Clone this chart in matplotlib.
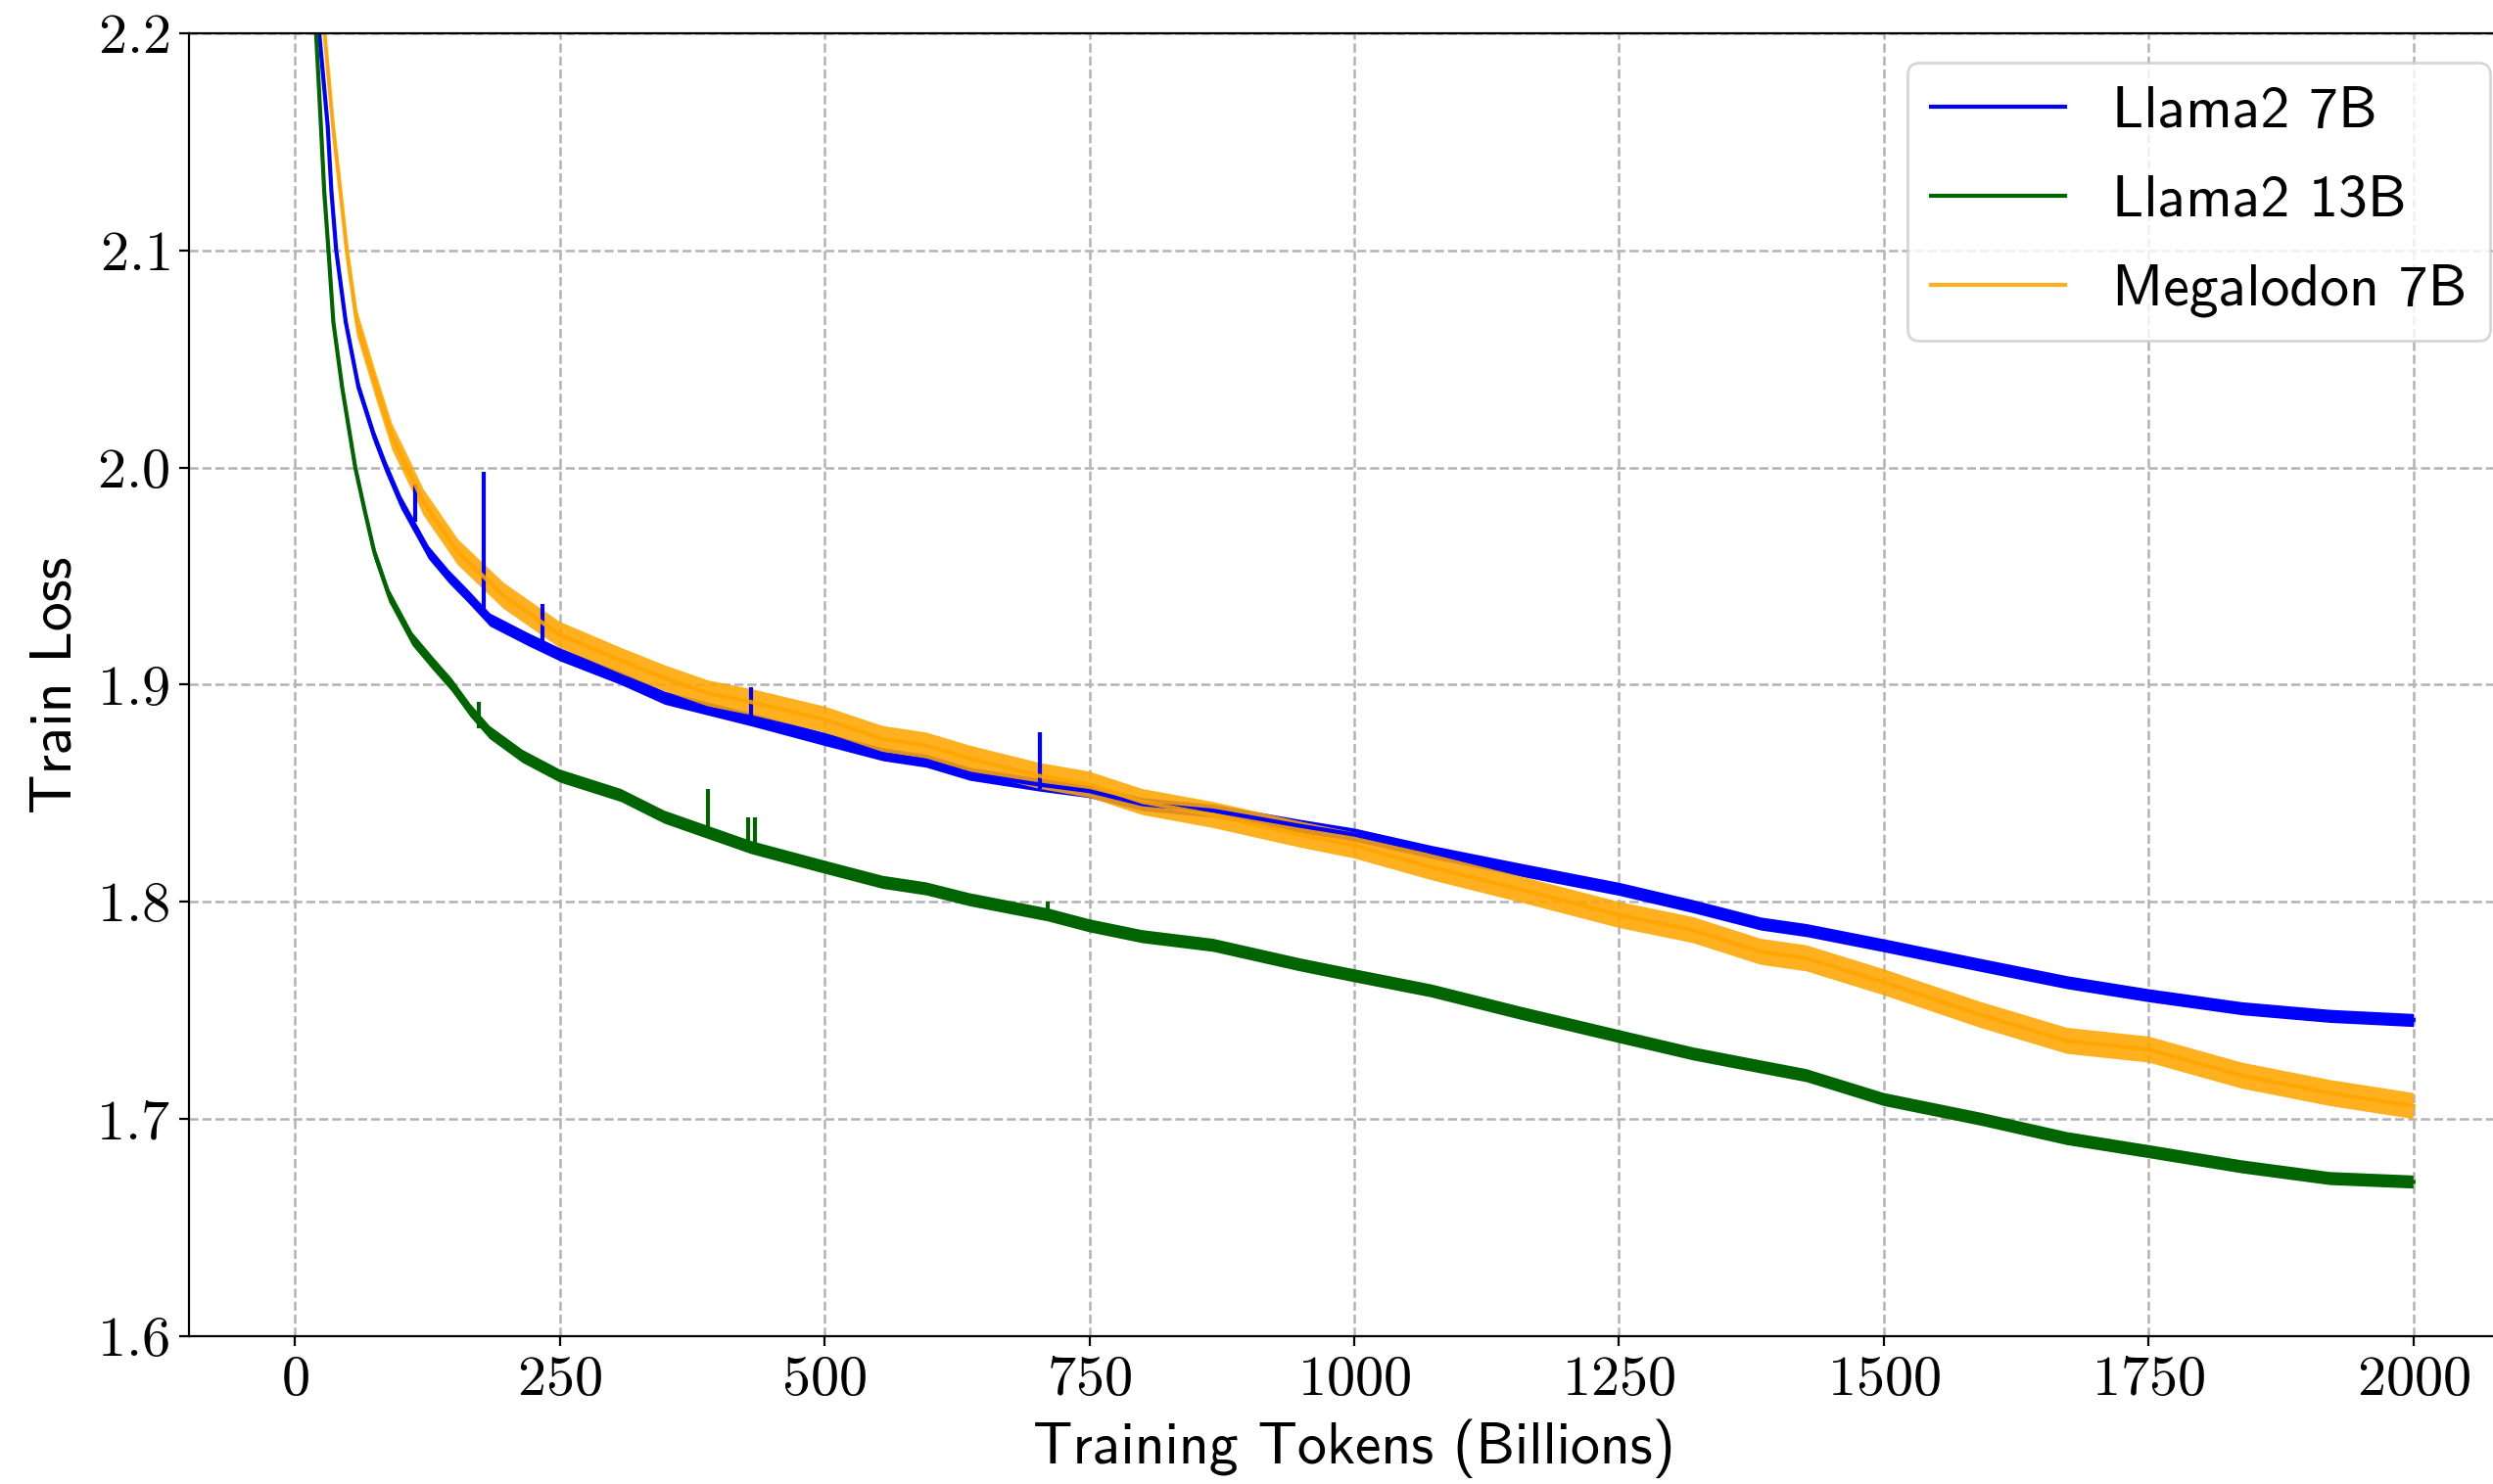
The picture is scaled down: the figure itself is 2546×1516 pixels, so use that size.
import matplotlib
matplotlib.use("Agg")
import matplotlib.pyplot as plt
import numpy as np

# 曲线数据 (训练 token, 单位十亿)
llama7_x = [12, 17, 23, 31, 34.5, 39, 48, 60, 75, 86, 100, 126, 145, 163, 184, 220, 250,
            308, 349, 390, 431, 500, 555, 596, 637, 703, 750, 800, 867, 949, 1000, 1073,
            1155, 1250, 1320, 1384, 1427, 1500, 1591, 1673, 1750, 1838, 1921, 2000]
llama7_y = [2.42, 2.31, 2.20, 2.157, 2.127, 2.100, 2.067, 2.037, 2.014, 2.000, 1.984, 1.961,
            1.950, 1.941, 1.930, 1.921, 1.914, 1.903, 1.894, 1.889, 1.884, 1.875, 1.868,
            1.865, 1.859, 1.854, 1.851, 1.845, 1.842, 1.835, 1.831, 1.823, 1.815, 1.806,
            1.798, 1.790, 1.787, 1.780, 1.771, 1.763, 1.757, 1.751, 1.7475, 1.7456]

llama13_x = [10, 15, 20, 24.6, 27.7, 31.7, 36.3, 44.6, 52.3, 57, 66, 75, 89, 111, 130, 148,
             166, 184, 215, 250, 308, 349, 390, 431, 500, 555, 596, 637, 711, 750, 800, 867,
             949, 1000, 1073, 1155, 1250, 1320, 1384, 1427, 1500, 1591, 1673, 1750, 1838,
             1921, 2000]
llama13_y = [2.42, 2.31, 2.20, 2.157, 2.127, 2.100, 2.067, 2.037, 2.014, 2.000, 1.980, 1.961,
             1.941, 1.921, 1.910, 1.900, 1.888, 1.878, 1.867, 1.858, 1.849, 1.839, 1.832,
             1.825, 1.816, 1.809, 1.806, 1.801, 1.794, 1.789, 1.784, 1.780, 1.771, 1.766,
             1.759, 1.749, 1.738, 1.730, 1.724, 1.720, 1.709, 1.700, 1.691, 1.685, 1.678,
             1.6726, 1.671]

mega7_x = [15, 21, 28, 36, 43, 49, 58.5, 77, 92, 106, 121.5, 154, 197, 250, 308, 349, 390,
           431, 500, 555, 596, 637, 703, 750, 800, 867, 949, 1000, 1073, 1155, 1250, 1320,
           1384, 1427, 1500, 1591, 1673, 1750, 1838, 1921, 2000]
mega7_y = [2.42, 2.31, 2.20, 2.157, 2.127, 2.100, 2.067, 2.037, 2.014, 2.000, 1.984, 1.961,
           1.941, 1.923, 1.911, 1.903, 1.896, 1.892, 1.884, 1.875, 1.872, 1.866, 1.858,
           1.854, 1.846, 1.840, 1.831, 1.826, 1.816, 1.806, 1.794, 1.787, 1.777, 1.774,
           1.763, 1.748, 1.736, 1.732, 1.720, 1.712, 1.706]

# 噪声带宽 (半宽)
llama7_spread = 0.003
llama13_spread = 0.003
mega7_spread = 0.006

# 尖峰: (x, 底, 顶)
llama7_spikes = [(114, 1.975, 1.992), (178, 1.935, 1.998), (234, 1.915, 1.937),
                 (431, 1.882, 1.899), (703, 1.852, 1.878)]
llama13_spikes = [(174, 1.880, 1.892), (390, 1.830, 1.852), (428, 1.826, 1.839),
                  (434, 1.825, 1.839), (711, 1.793, 1.800)]

plt.rcParams['axes.formatter.use_mathtext'] = True

fig = plt.figure(figsize=(12.73, 7.58), dpi=200)
ax = fig.add_axes([0.0758, 0.0996, 1.0106 - 0.0758, 0.9776 - 0.0996])

series = [
    (llama7_x, llama7_y, llama7_spread, llama7_spikes, 'blue', 1.0, 'Llama2 7B'),
    (llama13_x, llama13_y, llama13_spread, llama13_spikes, 'darkgreen', 1.0, 'Llama2 13B'),
    (mega7_x, mega7_y, mega7_spread, [], 'orange', 0.88, 'Megalodon 7B'),
]
for xs, ys, s, spikes, c, a, name in series:
    xs = np.array(xs)
    ys = np.array(ys)
    ax.fill_between(xs, ys - s, ys + s, color=c, alpha=a, lw=0)
    ax.plot(xs, ys, color=c, alpha=a, lw=1.5, label=name)
    for sx, lo, hi in spikes:
        ax.vlines(sx, lo, hi, color=c, alpha=a, lw=1.5)

ax.set_xlim(-100, 2100)
ax.set_ylim(1.6, 2.2)
ax.set_xticks([0, 250, 500, 750, 1000, 1250, 1500, 1750, 2000])
ax.set_yticks([1.6, 1.7, 1.8, 1.9, 2.0, 2.1, 2.2])
ax.grid(True, ls='--', color='0.7', lw=0.9)
ax.set_axisbelow(True)

for lab in ax.get_xticklabels() + ax.get_yticklabels():
    lab.set_fontfamily('cmr10')
    lab.set_fontsize(21)

ax.set_xlabel('Training Tokens (Billions)', fontfamily='cmss10', fontsize=21.5, labelpad=5)
ax.set_ylabel('Train Loss', fontfamily='cmss10', fontsize=21.5, labelpad=5)
ax.legend(loc='upper right', prop={'family': 'cmss10', 'size': 21.5},
          handlelength=2.3, labelspacing=0.62)

fig.savefig('out.png', dpi=200)
